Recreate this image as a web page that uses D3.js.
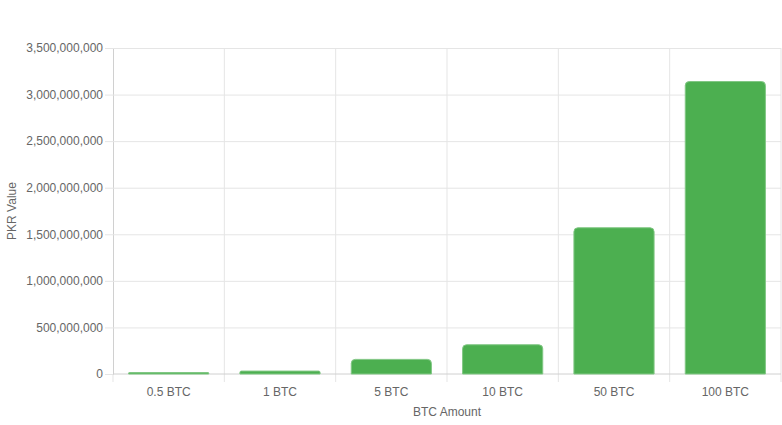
<!DOCTYPE html>
<html>
<head>
  <meta charset="utf-8" />
  <title>BTC to PKR</title>
  <style>
    body { margin: 0; background: #fff; }
    text { font-family: "Liberation Sans", Arial, sans-serif; }
  </style>
</head>
<body>
  <svg id="chart"></svg>
  <script src="https://cdn.jsdelivr.net/npm/d3@7/dist/d3.min.js"></script>
  <script>
    const categories = ['0.5 BTC', '1 BTC', '5 BTC', '10 BTC', '50 BTC', '100 BTC']
    const values = [15700000, 31400000, 157000000, 314000000, 1570000000, 3140000000]
    const yTicks = [0, 500000000, 1000000000, 1500000000, 2000000000, 2500000000, 3000000000, 3500000000]

    const width = 782
    const height = 425
    const margin = { top: 48, right: 1, bottom: 51, left: 113 }

    const svg = d3.select('#chart').attr('width', width).attr('height', height)

    const x = d3.scaleBand()
      .domain(categories)
      .range([margin.left, width - margin.right])
      .paddingInner(0)
      .paddingOuter(0)

    const y = d3.scaleLinear()
      .domain([0, 3500000000])
      .range([height - margin.bottom, margin.top])

    const grid = '#e5e5e5'
    const fmt = d3.format(',')

    // horizontal grid + y ticks
    const yAxis = svg.append('g')
      .attr('transform', `translate(${margin.left},0)`)
      .call(d3.axisLeft(y).tickValues(yTicks).tickFormat(fmt).tickSize(8).tickPadding(2))
    yAxis.select('.domain').attr('stroke', '#d0d0d0')
    yAxis.selectAll('.tick line').attr('stroke', grid)
    yAxis.selectAll('.tick text').attr('fill', '#666').style('font-size', '12px')
    yAxis.selectAll('.tick').filter(d => d !== 0).append('line')
      .attr('x1', 0).attr('x2', width - margin.right - margin.left)
      .attr('stroke', grid)

    // vertical grid lines at category boundaries
    const bounds = categories.map(c => x(c)).concat([x.range()[1]])
    svg.append('g').selectAll('line')
      .data(bounds.slice(1))
      .join('line')
      .attr('x1', d => d).attr('x2', d => d)
      .attr('y1', margin.top).attr('y2', height - margin.bottom + 8)
      .attr('stroke', grid)
    svg.append('line')
      .attr('x1', margin.left).attr('x2', margin.left)
      .attr('y1', height - margin.bottom).attr('y2', height - margin.bottom + 8)
      .attr('stroke', grid)

    // x axis baseline
    svg.append('line')
      .attr('x1', margin.left).attr('x2', width - margin.right)
      .attr('y1', y(0)).attr('y2', y(0))
      .attr('stroke', '#d0d0d0')

    // bars
    const barW = x.bandwidth() * 0.72
    const r = 4
    svg.append('g').selectAll('path')
      .data(values)
      .join('path')
      .attr('d', (d, i) => {
        const x0 = x(categories[i]) + (x.bandwidth() - barW) / 2
        const x1 = x0 + barW
        const y0 = y(0)
        const y1 = y(d)
        const rr = Math.min(r, (y0 - y1) / 2, barW / 2)
        return `M${x0},${y0}V${y1 + rr}Q${x0},${y1} ${x0 + rr},${y1}H${x1 - rr}Q${x1},${y1} ${x1},${y1 + rr}V${y0}Z`
      })
      .attr('fill', '#4caf50')
      .attr('stroke', '#81c784')
      .attr('stroke-width', 1)

    // x labels
    svg.append('g').selectAll('text')
      .data(categories)
      .join('text')
      .attr('x', d => x(d) + x.bandwidth() / 2)
      .attr('y', height - margin.bottom + 22)
      .attr('text-anchor', 'middle')
      .attr('fill', '#666')
      .style('font-size', '12px')
      .text(d => d)

    // axis titles
    svg.append('text')
      .attr('x', (margin.left + width - margin.right) / 2)
      .attr('y', 416)
      .attr('text-anchor', 'middle')
      .attr('fill', '#666')
      .style('font-size', '12px')
      .text('BTC Amount')

    svg.append('text')
      .attr('transform', `translate(16,${(margin.top + height - margin.bottom) / 2}) rotate(-90)`)
      .attr('text-anchor', 'middle')
      .attr('fill', '#666')
      .style('font-size', '12px')
      .text('PKR Value')
  </script>
</body>
</html>
